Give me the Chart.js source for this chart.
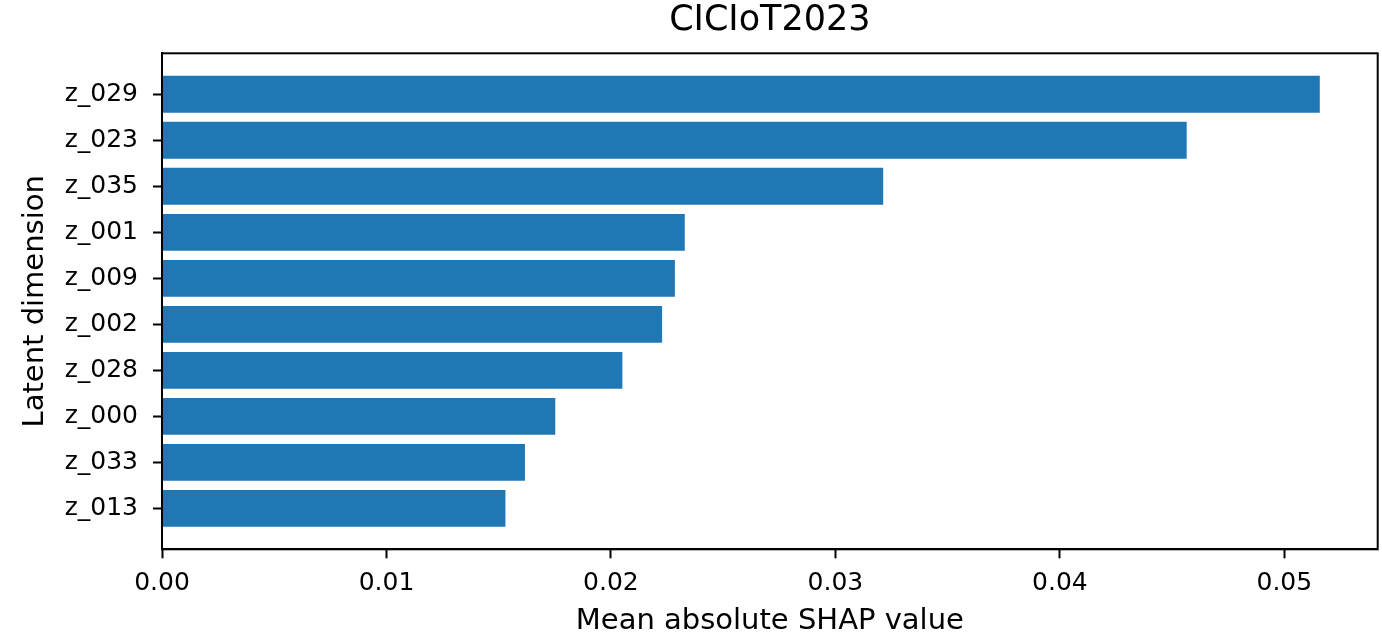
<!DOCTYPE html>
<html>
<head>
<meta charset="utf-8">
<script src="https://cdn.jsdelivr.net/npm/chart.js@4.4.1/dist/chart.umd.min.js"></script>
<style>
  html, body { margin: 0; padding: 0; background: #ffffff; }
  canvas { display: block; }
</style>
</head>
<body>
<canvas id="c" width="1382" height="640"></canvas>
<script>
// ---- Data ----
const categories = ['z_029', 'z_023', 'z_035', 'z_001', 'z_009', 'z_002', 'z_028', 'z_000', 'z_033', 'z_013'];
const values = [0.05158, 0.04565, 0.03213, 0.02329, 0.02285, 0.02228, 0.02051, 0.01752, 0.01617, 0.01530];
const xTicks = [0.00, 0.01, 0.02, 0.03, 0.04, 0.05];
const titleText = 'CICIoT2023';
const xLabel = 'Mean absolute SHAP value';
const yLabel = 'Latent dimension';

const FONT = 'DejaVu Sans';

const framePlugin = {
  id: 'frame',
  afterDatasetsDraw(chart) {
    const {ctx, chartArea: a} = chart;
    ctx.save();
    ctx.strokeStyle = '#000';
    ctx.lineWidth = 2;
    ctx.strokeRect(a.left, a.top, a.right - a.left, a.bottom - a.top);
    ctx.restore();
  }
};

new Chart(document.getElementById('c'), {
  type: 'bar',
  data: {
    datasets: [{
      data: values.map((v, i) => ({x: v, y: i})),
      backgroundColor: '#1f77b4',
      borderWidth: 0,
      barPercentage: 1.0,
      categoryPercentage: 0.8
    }]
  },
  options: {
    indexAxis: 'y',
    responsive: false,
    animation: false,
    layout: { padding: { left: 0, right: 4.3, top: 0, bottom: 0 } },
    plugins: {
      legend: { display: false },
      tooltip: { enabled: false },
      title: {
        display: true,
        text: titleText,
        fullSize: false,
        color: '#000',
        font: { family: FONT, size: 35, weight: 'normal' },
        padding: { top: 0, bottom: 11.3 }
      }
    },
    scales: {
      x: {
        type: 'linear',
        position: 'bottom',
        offset: false,
        min: 0,
        max: 0.05416,
        afterBuildTicks: axis => { axis.ticks = xTicks.map(v => ({value: v})); },
        afterFit: axis => { axis.height = 90.7; },
        grid: { offset: false, drawOnChartArea: false, drawTicks: true, tickLength: 9, tickWidth: 2, tickColor: '#000' },
        border: { display: true, color: '#000', width: 2 },
        ticks: {
          color: '#000',
          padding: 10.5,
          maxRotation: 0,
          font: { family: FONT, size: 25 },
          callback: v => Number(v).toFixed(2)
        },
        title: {
          display: true,
          text: xLabel,
          color: '#000',
          font: { family: FONT, size: 29 },
          padding: { top: 0, bottom: 1.6 }
        }
      },
      y: {
        type: 'linear',
        position: 'left',
        offset: false,
        reverse: true,
        min: -0.89,
        max: 9.89,
        afterBuildTicks: axis => { axis.ticks = categories.map((_, i) => ({value: i})); },
        afterFit: axis => { axis.width = 162; },
        grid: { offset: false, drawOnChartArea: false, drawTicks: true, tickLength: 9, tickWidth: 2, tickColor: '#000' },
        border: { display: true, color: '#000', width: 2 },
        ticks: {
          color: '#000',
          padding: 15,
          font: { family: FONT, size: 25 },
          callback: v => categories[v]
        },
        title: {
          display: true,
          text: yLabel,
          color: '#000',
          font: { family: FONT, size: 29 },
          padding: { top: 17.6, bottom: 0 }
        }
      }
    }
  },
  plugins: [framePlugin]
});
</script>
</body>
</html>
